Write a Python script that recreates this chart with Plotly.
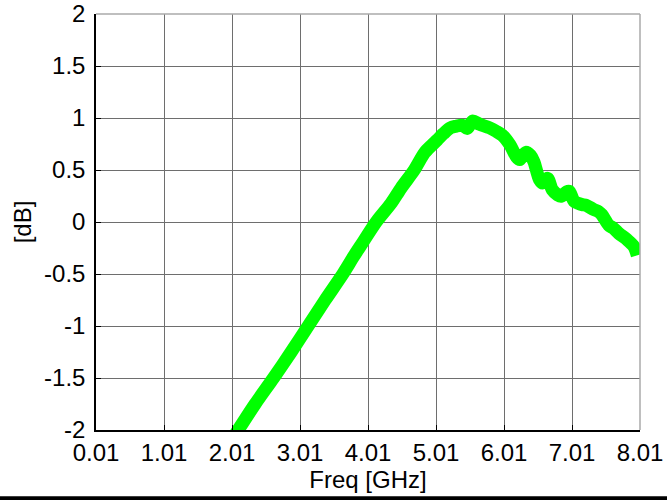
import plotly.graph_objects as go

freq_ghz = [1.80, 2.10, 2.35, 2.62, 2.88, 3.13, 3.38, 3.64, 3.80, 3.90, 4.13, 4.35, 4.50,
            4.69, 4.84, 4.95, 5.03, 5.12, 5.22, 5.30, 5.40, 5.47, 5.55, 5.65, 5.80, 5.90,
            6.00, 6.10, 6.19, 6.24, 6.33, 6.40, 6.45, 6.53, 6.58, 6.65, 6.72, 6.80, 6.85,
            6.93, 6.97, 7.04, 7.10, 7.16, 7.22, 7.29, 7.33, 7.40, 7.45, 7.55, 7.62, 7.70,
            7.82, 7.92, 7.97]
gain_db = [-2.30, -2.00, -1.75, -1.50, -1.25, -1.00, -0.75, -0.50, -0.33, -0.23, 0.00, 0.18, 0.33,
           0.50, 0.665, 0.74, 0.79, 0.85, 0.905, 0.92, 0.93, 0.90, 0.97, 0.94, 0.905, 0.87,
           0.825, 0.74, 0.63, 0.60, 0.67, 0.64, 0.58, 0.41, 0.375, 0.42, 0.31, 0.26, 0.247,
           0.29, 0.295, 0.20, 0.18, 0.167, 0.16, 0.135, 0.12, 0.10, 0.07, -0.03, -0.06, -0.11,
           -0.17, -0.235, -0.32]

x_tickvals = [0.01, 1.01, 2.01, 3.01, 4.01, 5.01, 6.01, 7.01, 8.01]
x_ticktext = ["0.01", "1.01", "2.01", "3.01", "4.01", "5.01", "6.01", "7.01", "8.01"]
y_tickvals = [-2, -1.5, -1, -0.5, 0, 0.5, 1, 1.5, 2]
y_ticktext = ["-2", "-1.5", "-1", "-0.5", "0", "0.5", "1", "1.5", "2"]

FONT = "Liberation Sans, Arial, sans-serif"

fig = go.Figure()
fig.add_trace(go.Scatter(
    x=freq_ghz, y=gain_db, mode="lines",
    line=dict(color="#00ff00", width=13, shape="spline", smoothing=0.8),
    showlegend=False, hoverinfo="skip",
))

grid_col = "rgb(110,110,110)"
eps = 1e-6
fig.update_layout(
    width=667, height=500,
    margin=dict(l=96, r=27, t=14, b=70),
    paper_bgcolor="white", plot_bgcolor="white",
    font=dict(family=FONT, color="black", size=24),
    xaxis=dict(
        range=[0.01 - eps, 8.01 + eps], tickvals=x_tickvals, ticktext=x_ticktext,
        showgrid=True, gridcolor=grid_col, gridwidth=1,
        showline=True, linecolor="black", linewidth=1.5, mirror=False,
        ticks="inside", ticklen=5, tickcolor="black",
        tickfont=dict(size=24, family=FONT), zeroline=False,
        ticklabeloverflow="allow",
        title=dict(text="Freq [GHz]", font=dict(size=24, family=FONT), standoff=5),
        automargin=False,
    ),
    yaxis=dict(
        range=[-2 - eps, 2 + eps], tickvals=y_tickvals, ticktext=y_ticktext,
        showgrid=True, gridcolor=grid_col, gridwidth=1,
        showline=True, linecolor="black", linewidth=1.5, mirror=False,
        ticks="inside", ticklen=5, tickcolor="black",
        tickfont=dict(size=24, family=FONT), zeroline=False,
        ticklabelstandoff=4, ticklabeloverflow="allow",
        title=dict(text="[dB]", font=dict(size=24, family=FONT), standoff=6),
        automargin=False,
    ),
    shapes=[
        dict(type="line", xref="paper", yref="paper", x0=0, x1=1, y0=1, y1=1,
             line=dict(color="rgb(170,170,170)", width=1.5), layer="above"),
        dict(type="line", xref="paper", yref="paper", x0=1, x1=1, y0=0, y1=1,
             line=dict(color="rgb(170,170,170)", width=1.5), layer="above"),
        dict(type="rect", xref="paper", yref="paper", x0=-0.2, x1=1.1,
             y0=-0.1700, y1=-0.1595, fillcolor="black", line=dict(width=0)),
    ],
)

fig.write_html("out.html", config={"displayModeBar": False},
               post_script="document.body.style.margin='0px';")
